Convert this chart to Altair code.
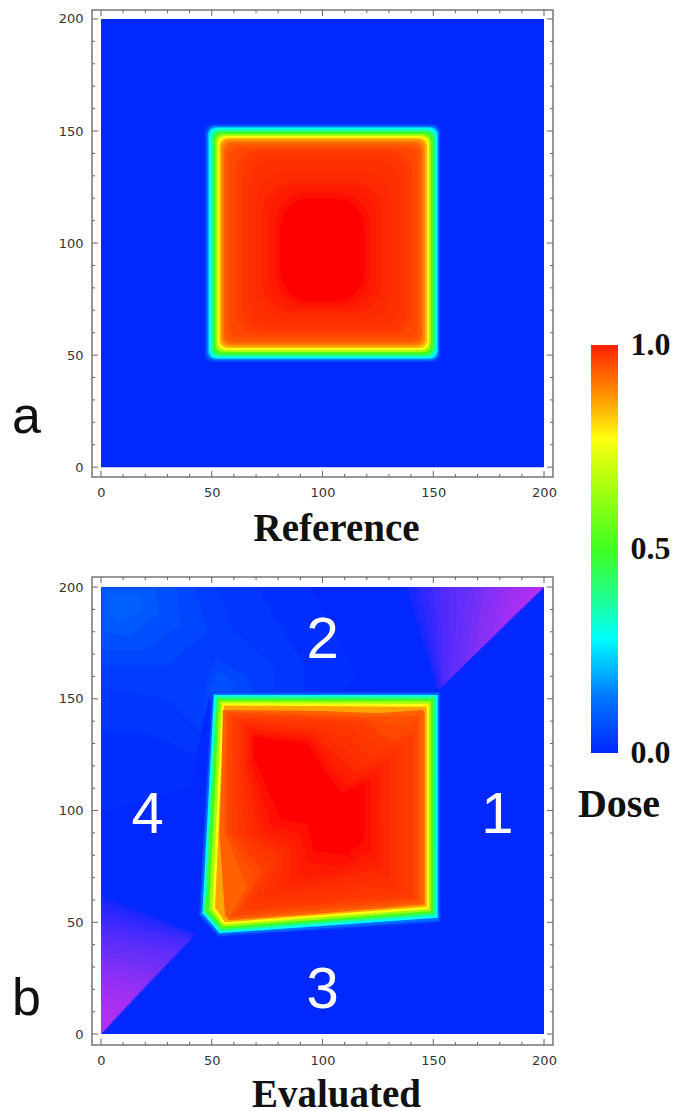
import altair as alt
import pandas as pd

# colour scale
CMAP_LEVELS = [-0.30, -0.16, -0.04, 0.0, 0.14, 0.28, 0.38, 0.50, 0.64, 0.77, 0.88, 0.92, 0.96, 1.0, 1.03]
CMAP_COLORS = ["#b030f0", "#6a30f8", "#2a28ff", "#0028ff", "#0078ff", "#00ffff", "#20ff90",
               "#40ff20", "#a0ff10", "#ffff10", "#ff9000", "#ff6000", "#ff3c00", "#ff2000", "#ff0000"]
BAR_LEVELS = [0.0, 0.14, 0.28, 0.38, 0.50, 0.64, 0.77, 0.88, 1.0]
BAR_COLORS = ["#0028ff", "#0078ff", "#00ffff", "#20ff90", "#40ff20", "#a0ff10", "#ffff10", "#ff9000", "#ff2000"]

MAJOR_TICKS = [0, 50, 100, 150, 200]
MINOR_TICKS = [10, 20, 30, 40, 60, 70, 80, 90, 110, 120, 130, 140, 160, 170, 180, 190]

# Panel a: iso-dose contours (dose, left, right, bottom, top)
REF_FIELD = [(0.0, 0, 200, 0, 200)]
REF_EDGE = [
    (0.03, 46.8, 153.3, 46.8, 153.2), (0.10, 47.5, 152.7, 47.5, 152.5), (0.20, 48.2, 152.2, 48.1, 151.9),
    (0.28, 48.8, 151.7, 48.6, 151.5), (0.38, 49.6, 150.9, 49.4, 150.7), (0.50, 50.6, 150.0, 50.2, 149.7),
    (0.64, 51.7, 149.0, 51.3, 148.7), (0.77, 52.7, 148.0, 52.2, 147.8), (0.84, 53.5, 147.2, 53.2, 146.9),
    (0.88, 54.2, 146.4, 54.0, 146.2), (0.90, 54.8, 145.6, 54.6, 145.4), (0.92, 55.5, 145.0, 55.3, 144.8),
]
REF_CORE_OUTER = [
    (0.93, 56.0, 144.3, 56.0, 144.0), (0.94, 57.0, 143.5, 57.0, 143.3), (0.95, 58.5, 142.5, 58.0, 142.5),
]
REF_CORE_MID = [
    (0.96, 61, 140.5, 59.5, 141.5), (0.97, 64, 138, 61, 139.5), (0.98, 67, 135, 63, 136.5),
]
REF_CORE_INNER = [
    (0.99, 70, 131, 66, 132), (1.00, 73, 127, 69, 127), (1.01, 76, 124, 71, 125),
    (1.02, 79, 121, 72.5, 122.5), (1.03, 81, 119, 74, 120),
]

# Panel b: iso-dose contours as polygons (dose, vertices)
EVAL_GLOW = [
    (0.008, [(0, 200), (95, 200), (115, 160), (110, 153), (48, 150), (40, 110), (0, 100)]),
    (0.016, [(0, 200), (70, 200), (92, 165), (92, 153), (49, 152), (43, 125), (20, 135), (0, 135)]),
    (0.026, [(0, 200), (52, 200), (60, 180), (78, 165), (78, 153), (49, 153), (45, 135), (30, 150), (0, 155)]),
    (0.04, [(0, 200), (42, 200), (48, 180), (30, 165), (0, 165)]),
    (0.04, [(47, 156), (52, 168), (66, 160), (68, 153), (49, 153), (47, 142)]),
    (0.055, [(0, 200), (34, 200), (36, 183), (20, 172), (0, 172)]),
    (0.055, [(49, 155), (53, 163), (60, 157), (60, 153), (50, 153), (49, 147)]),
    (0.075, [(1, 199), (25, 199), (26, 188), (12, 178), (1, 180)]),
    (0.09, [(4, 197), (18, 197), (18, 189), (8, 184), (4, 187)]),
]
WEDGE_DOSE = [-0.015, -0.03, -0.045, -0.06, -0.08, -0.10, -0.12, -0.14, -0.16, -0.18, -0.20, -0.22, -0.24, -0.26, -0.28, -0.30]
WEDGE_TR_TOP = [138, 141, 144, 147, 150, 153, 157, 161, 165, 169, 173, 177, 181, 185, 190, 195]
WEDGE_TR_DIAG = [152, 152.5, 153, 153.5, 154, 155, 157, 159, 162, 165, 168, 172, 176, 180, 185, 190]
WEDGE_BL_LEFT = [62, 59, 56, 53, 50, 47, 44, 41, 38, 35, 32, 29, 26, 22, 18, 13]
WEDGE_BL_DIAG = [43, 42.5, 42, 41, 40, 38, 36, 34, 31, 28, 25, 22, 19, 16, 12, 8]
EVAL_EDGE = [
    (0.04, [(50.0, 153.2), (153.2, 153.0), (153.3, 50.0), (53.0, 43.6), (44.2, 53.0)]),
    (0.12, [(50.5, 152.5), (152.6, 152.5), (152.7, 50.8), (53.2, 44.3), (44.8, 53.5)]),
    (0.28, [(51.0, 151.7), (152.0, 151.7), (152.0, 52.0), (53.5, 45.2), (45.8, 54.0)]),
    (0.38, [(51.7, 151.0), (151.0, 151.0), (151.0, 53.0), (54.0, 46.0), (46.5, 54.5)]),
    (0.50, [(52.4, 150.0), (150.0, 150.0), (150.0, 54.0), (54.5, 47.0), (47.3, 55.0)]),
    (0.64, [(53.3, 149.0), (149.0, 149.0), (149.0, 55.0), (55.0, 48.0), (48.8, 55.5)]),
    (0.77, [(54.5, 148.0), (148.0, 147.8), (148.0, 56.0), (55.5, 49.0), (50.3, 56.0)]),
    (0.86, [(55.5, 147.0), (147.0, 146.5), (147.0, 57.0), (56.0, 50.0), (51.5, 56.5)]),
]
EVAL_CORE = [
    (0.92, [(55, 145), (100, 144.5), (125, 143.5), (145, 145), (146, 144), (146, 58), (100, 54), (58, 51), (56, 53), (53.5, 90), (54.5, 120)]),
    (0.94, [(56.5, 144), (100, 143), (122, 142), (142, 142.5), (144, 143.5), (144, 59), (100, 55.5), (58, 52), (66, 66), (56, 90), (56, 120)]),
    (0.95, [(57.5, 143.5), (100, 142), (120, 141), (136, 137), (143, 141), (143, 60), (100, 56.5), (60, 53), (70, 70), (57, 90), (57, 120)]),
    (0.96, [(59, 142), (100, 141), (118, 140), (131, 131), (141, 135), (141, 61), (100, 58), (63, 55), (73, 73), (59, 90), (59, 120)]),
    (0.97, [(61, 141), (100, 139.5), (114, 137), (126, 127), (137, 130), (137, 63), (100, 60), (68, 58), (77, 76), (62, 90), (61, 120)]),
    (0.98, [(63, 140), (98, 137.5), (111, 133), (122, 123), (133, 126), (133, 66), (100, 63), (73, 61), (80, 79), (65, 90), (62.5, 120)]),
    (0.99, [(64.5, 139), (96, 136), (109, 128), (118, 120), (130, 123), (130, 70), (100, 66), (79, 63.5), (83, 81), (68, 89), (64, 120)]),
    (1.00, [(66, 137), (95, 134.5), (107, 124), (115, 117), (127, 120), (127, 74), (102, 69), (85, 67), (85, 83), (71, 90), (65.5, 120)]),
    (1.01, [(67, 136), (95, 133), (106, 120), (113, 114), (125, 117), (124.5, 78), (104, 71.5), (90, 72), (88, 86), (74, 91), (66.5, 120)]),
    (1.02, [(68, 134.5), (94, 131.5), (104, 118), (111, 111), (122, 114.5), (122, 82), (108, 75), (94, 77), (90, 90), (77, 93), (67.5, 122)]),
    (1.03, [(69, 133), (93, 130), (103, 115), (109, 108), (119, 112), (119, 87), (111, 80), (96, 82), (93, 94), (81, 96), (69, 124)]),
]

REGION_LABELS = ["1", "2", "3", "4"]
REGION_X = [179, 100, 100, 21]
REGION_Y = [97.5, 175.7, 19.2, 97.5]

color_scale = alt.Scale(domain=CMAP_LEVELS, range=CMAP_COLORS, clamp=True)
FONT_SERIF = "Liberation Serif"
FONT_SANS = "Liberation Sans"

EVAL_WEDGES = (
    [(d, [(t, 200), (200, 200), (g, g + 1.5)]) for d, t, g in zip(WEDGE_DOSE, WEDGE_TR_TOP, WEDGE_TR_DIAG)]
    + [(d, [(0, t), (0, 0), (g, g + 2)]) for d, t, g in zip(WEDGE_DOSE, WEDGE_BL_LEFT, WEDGE_BL_DIAG)]
)


def x_enc(field, scale, title, pad):
    return alt.X(field, scale=scale, title=title, axis=alt.Axis(
        values=MAJOR_TICKS, ticks=False, domain=False, grid=False, labelFont="DejaVu Sans", labelFontSize=13,
        labelColor="#333", labelPadding=9, titleFont=FONT_SERIF, titleFontSize=39, titleFontWeight="bold",
        titleColor="#111", titlePadding=pad, titleX=244))


def y_enc(field, scale):
    return alt.Y(field, scale=scale, title=None, axis=alt.Axis(
        values=MAJOR_TICKS, ticks=False, domain=False, grid=False, labelFont="DejaVu Sans", labelFontSize=13,
        labelColor="#333", labelPadding=9))


def tick_layers(xs, ys, w, h, title, pad):
    layers = []
    for vals, n in ((MAJOR_TICKS, 6), (MINOR_TICKS, 3)):
        d = pd.DataFrame({"t": vals})
        base = alt.Chart(d).mark_rule(color="#666", strokeWidth=1)
        xe = x_enc("t:Q", xs, title, pad)
        ye = y_enc("t:Q", ys)
        layers += [
            base.encode(x=xe, y=alt.value(0), y2=alt.value(n)),
            base.encode(x=xe, y=alt.value(h), y2=alt.value(h - n)),
            base.encode(y=ye, x=alt.value(0), x2=alt.value(n)),
            base.encode(y=ye, x=alt.value(w), x2=alt.value(w - n)),
        ]
    return layers


def rect_layer(rows, xs, ys, radius, title, pad):
    d = pd.DataFrame(rows, columns=["dose", "x0", "x1", "y0", "y1"])
    mark = alt.Chart(d).mark_rect(cornerRadius=radius) if radius else alt.Chart(d).mark_rect()
    return mark.encode(x=x_enc("x0:Q", xs, title, pad), x2="x1:Q", y=y_enc("y0:Q", ys), y2="y1:Q",
                       color=alt.Color("dose:Q", scale=color_scale, legend=None))


def poly_layer(polys, xs, ys, title, pad):
    rows = []
    for pid, (dose, verts) in enumerate(polys):
        for seq, (px, py) in enumerate(verts):
            rows.append({"pid": pid, "seq": seq, "x": px, "y": py, "dose": dose})
    d = pd.DataFrame(rows)
    return alt.Chart(d).mark_line(strokeWidth=0).encode(
        x=x_enc("x:Q", xs, title, pad),
        y=y_enc("y:Q", ys),
        detail="pid:N",
        order="seq:Q",
        fill=alt.Fill("dose:Q", scale=color_scale, legend=None),
    )


def letter(text, ypx):
    return alt.Chart(pd.DataFrame({"t": [text]})).mark_text(
        font=FONT_SANS, fontSize=52, align="left", baseline="alphabetic", color="#111"
    ).encode(text="t:N", x=alt.value(-80), y=alt.value(ypx))


frame = alt.ViewBackground(fill="white", stroke="#777", strokeWidth=1.5)

# Panel a
W_A, H_A = 461, 467
xs_a = alt.Scale(domain=[-4.06, 204.06], nice=False, zero=False)
ys_a = alt.Scale(domain=[-4.4, 204.0], nice=False, zero=False)
T_A, PAD_A = "Reference", 10
panel_a = alt.layer(
    rect_layer(REF_FIELD, xs_a, ys_a, 0, T_A, PAD_A),
    rect_layer(REF_EDGE, xs_a, ys_a, 8, T_A, PAD_A),
    rect_layer(REF_CORE_OUTER, xs_a, ys_a, 10, T_A, PAD_A),
    rect_layer(REF_CORE_MID, xs_a, ys_a, 22, T_A, PAD_A),
    rect_layer(REF_CORE_INNER, xs_a, ys_a, 30, T_A, PAD_A),
    *tick_layers(xs_a, ys_a, W_A, H_A, T_A, PAD_A),
    letter("a", 423),
).properties(width=W_A, height=H_A, view=frame)

# Panel b
W_B, H_B = 461, 468
xs_b = alt.Scale(domain=[-4.06, 204.06], nice=False, zero=False)
ys_b = alt.Scale(domain=[-4.9, 204.5], nice=False, zero=False)
T_B, PAD_B = "Evaluated", 8
region_df = pd.DataFrame({"t": REGION_LABELS, "x": REGION_X, "y": REGION_Y})
panel_b = alt.layer(
    rect_layer(REF_FIELD, xs_b, ys_b, 0, T_B, PAD_B),
    poly_layer(EVAL_GLOW + EVAL_WEDGES + EVAL_EDGE + EVAL_CORE, xs_b, ys_b, T_B, PAD_B),
    alt.Chart(region_df).mark_text(font=FONT_SANS, fontSize=58, color="white").encode(
        text="t:N", x=x_enc("x:Q", xs_b, T_B, PAD_B), y=y_enc("y:Q", ys_b)),
    *tick_layers(xs_b, ys_b, W_B, H_B, T_B, PAD_B),
    letter("b", 438),
).properties(width=W_B, height=H_B, view=frame)

# Colour bar
H_BAR = 1035
bar_scale = alt.Scale(domain=[-0.7157, 1.821], nice=False, zero=False)
bar_axis = alt.Axis(
    orient="right", values=[0.0, 0.5, 1.0], format=".1f", ticks=False, domain=False, grid=False,
    labelFont=FONT_SERIF, labelFontSize=32, labelFontWeight="bold", labelColor="#111", labelPadding=12)
bar_fill = alt.Gradient(
    gradient="linear", x1=0, x2=0, y1=1, y2=0,
    stops=[alt.GradientStop(offset=v, color=c) for v, c in zip(BAR_LEVELS, BAR_COLORS)],
)
bar = alt.Chart(pd.DataFrame({"lo": [0.0], "hi": [1.0]})).mark_rect(color=bar_fill).encode(
    x=alt.value(0), x2=alt.value(27),
    y=alt.Y("lo:Q", scale=bar_scale, title=None, axis=bar_axis),
    y2="hi:Q",
)
dose_label = alt.Chart(pd.DataFrame({"t": ["Dose"], "y": [-0.157]})).mark_text(
    font=FONT_SERIF, fontSize=40, fontWeight="bold", color="#111", baseline="alphabetic"
).encode(text="t:N", x=alt.value(28), y=alt.Y("y:Q", scale=bar_scale, title=None, axis=bar_axis))
panel_bar = alt.layer(bar, dose_label).properties(width=27, height=H_BAR)

chart = alt.hconcat(
    alt.vconcat(panel_a, panel_b, spacing=100, bounds="flush"),
    panel_bar,
    spacing=19,
).properties(
    padding={"left": 3, "top": 0, "right": 0, "bottom": 0},
).configure_view(stroke=None)

chart.save("out.html", embed_options={"renderer": "svg", "actions": False})
